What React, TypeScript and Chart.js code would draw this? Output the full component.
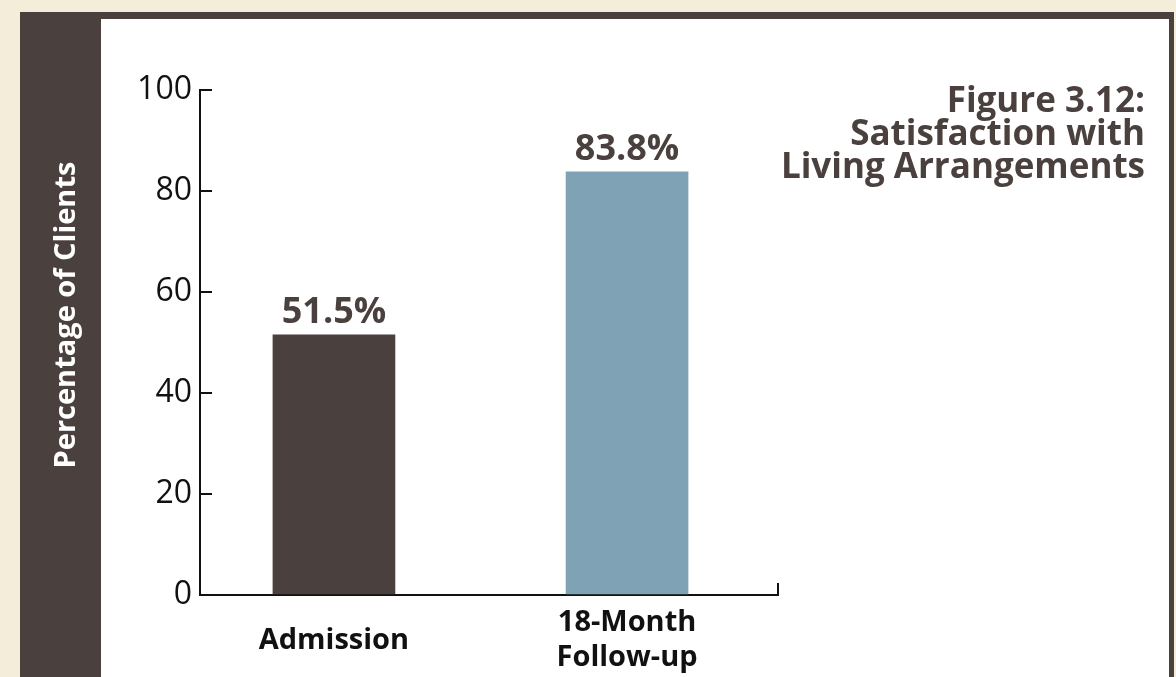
import React, { useEffect, useRef } from 'react';
import { Chart, registerables } from 'chart.js';

Chart.register(...registerables);

// ---- data ----
const categories: (string | string[])[] = ['Admission', ['18-Month', 'Follow-up']];
const values: number[] = [51.5, 83.8];
const barColors: string[] = ['#4A403E', '#7FA2B5'];
const yTickStep = 20;
const yMin = 0;
const yMax = 100;
const titleLines: string[] = ['Figure 3.12:', 'Satisfaction with', 'Living Arrangements'];
const yAxisTitle = 'Percentage of Clients';

// x axis range in category-index units (axis extends a bit past the bars)
const xMin = -0.457;
const xMax = 1.515;

// ---- style constants ----
const W = 1176;
const H = 677;
const BEIGE = '#F4EDD9';
const DARK = '#4A403E';
const AXIS = '#111111';
const FONT = '"Open Sans", "Noto Sans", sans-serif';

const framePlugin = {
  id: 'frame',
  beforeDraw(chart: any) {
    const ctx = chart.ctx;
    ctx.save();
    ctx.fillStyle = BEIGE;
    ctx.fillRect(0, 0, W, H);
    ctx.fillStyle = DARK;
    ctx.fillRect(20, 12, 1154, H - 12);
    ctx.fillStyle = '#FFFFFF';
    ctx.fillRect(101, 19, 1068, H - 19);
    ctx.restore();
  },
  afterDraw(chart: any) {
    const ctx = chart.ctx;
    ctx.save();
    ctx.translate(75, 315);
    ctx.rotate(-Math.PI / 2);
    ctx.fillStyle = '#FFFFFF';
    ctx.font = `bold 29px ${FONT}`;
    ctx.textAlign = 'center';
    ctx.textBaseline = 'alphabetic';
    ctx.fillText(yAxisTitle, 0, 0);
    ctx.restore();

    ctx.save();
    ctx.fillStyle = DARK;
    ctx.font = `bold 35px ${FONT}`;
    ctx.textAlign = 'right';
    ctx.textBaseline = 'alphabetic';
    titleLines.forEach((line, i) => {
      ctx.fillText(line, 1145, 112 + i * 33);
    });
    ctx.restore();
  },
};

const valueLabelPlugin = {
  id: 'valueLabels',
  afterDatasetsDraw(chart: any) {
    const ctx = chart.ctx;
    const meta = chart.getDatasetMeta(0);
    ctx.save();
    ctx.fillStyle = DARK;
    ctx.font = `bold 36px ${FONT}`;
    ctx.textAlign = 'center';
    ctx.textBaseline = 'alphabetic';
    meta.data.forEach((bar: any, i: number) => {
      ctx.fillText(`${values[i].toFixed(1)}%`, bar.x, bar.y - 12);
    });
    ctx.restore();
  },
};

export default function App() {
  const ref = useRef<HTMLCanvasElement>(null);

  useEffect(() => {
    if (!ref.current) return;
    const chart = new Chart(ref.current, {
      type: 'bar',
      data: {
        datasets: [
          {
            data: values.map((v, i) => ({ x: i, y: v })),
            backgroundColor: barColors,
            borderWidth: 0,
            barThickness: 122,
          },
        ],
      },
      options: {
        responsive: false,
        animation: false,
        devicePixelRatio: 1,
        layout: { padding: { left: 100, top: 90, right: 398, bottom: 0 } },
        plugins: {
          legend: { display: false },
          tooltip: { enabled: false },
          title: { display: false },
        },
        scales: {
          x: {
            type: 'linear',
            min: xMin,
            max: xMax,
            offset: false,
            afterBuildTicks: (s: any) => {
              s.ticks = [...categories.map((_, i) => ({ value: i })), { value: xMax }];
            },
            border: { display: true, color: AXIS, width: 2 },
            grid: {
              offset: false,
              drawOnChartArea: false,
              drawTicks: true,
              tickLength: -12,
              lineWidth: 2,
              color: (c: any) => (c.index === categories.length ? AXIS : 'rgba(0,0,0,0)'),
            },
            ticks: {
              color: AXIS,
              font: { family: FONT, size: 29, weight: 'bold' },
              padding: 40,
              maxRotation: 0,
              minRotation: 0,
              autoSkip: false,
              crossAlign: 'center',
              callback: (_v: any, index: number) => (index < categories.length ? categories[index] : ''),
            },
            afterFit: (s: any) => {
              s.height = 82;
            },
          },
          y: {
            min: yMin,
            max: yMax,
            border: { display: true, color: AXIS, width: 2 },
            grid: {
              drawOnChartArea: false,
              drawTicks: true,
              tickLength: -12,
              lineWidth: 2,
              color: AXIS,
            },
            ticks: {
              stepSize: yTickStep,
              color: AXIS,
              font: { family: FONT, size: 32 },
              padding: 20,
            },
            afterFit: (s: any) => {
              s.width = 100;
            },
          },
        },
      },
      plugins: [framePlugin, valueLabelPlugin],
    });
    return () => chart.destroy();
  }, []);

  return (
    <div style={{ position: 'absolute', left: 0, top: 0, width: W, height: H, background: BEIGE }}>
      <canvas ref={ref} width={W} height={H} style={{ display: 'block', width: W, height: H }} />
    </div>
  );
}
